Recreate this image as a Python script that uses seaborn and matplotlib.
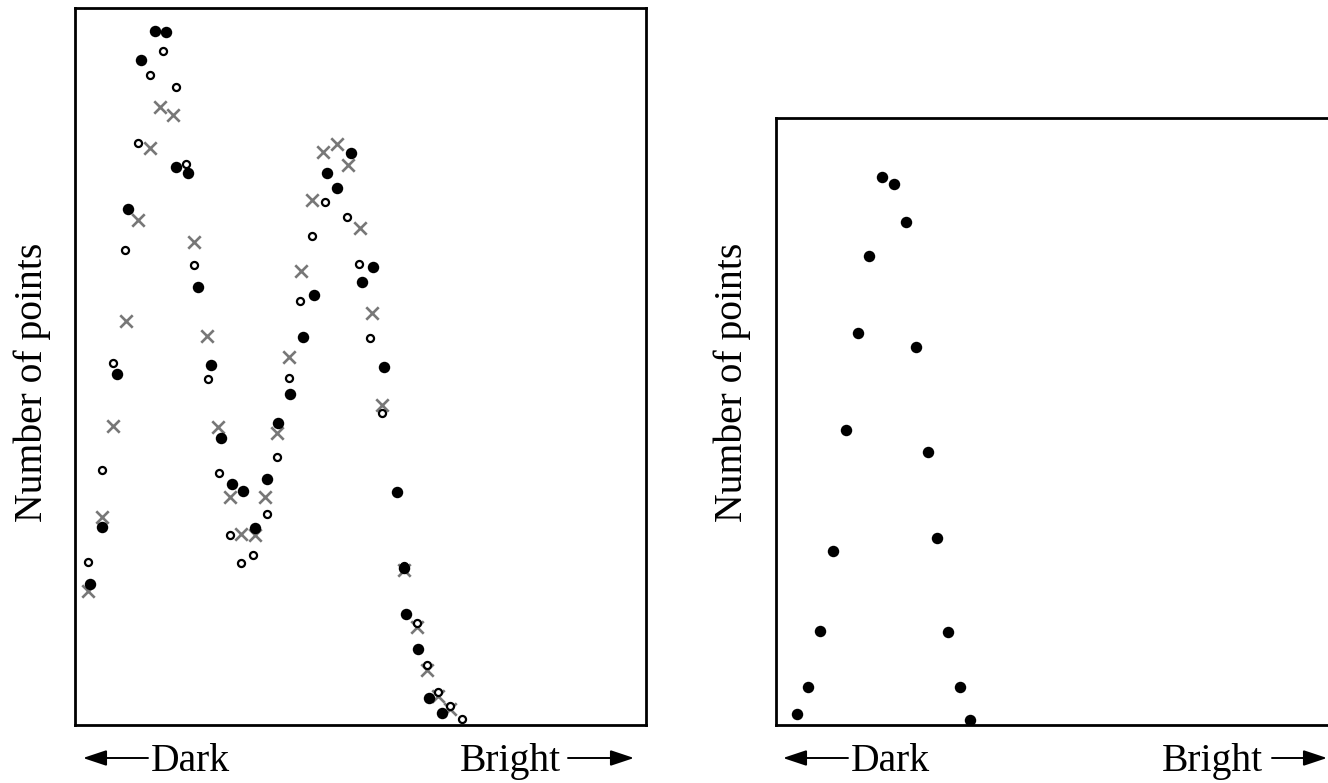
import matplotlib
matplotlib.use('Agg')
import matplotlib.pyplot as plt
import seaborn as sns

# brightness level (0-255) vs number of points
# left panel: three overlaid histograms
dots_x = [6.7, 12.1, 18.8, 23.7, 29.5, 35.7, 40.6, 45.1, 50.5, 54.9, 60.7, 65.2,
          70.1, 75.0, 80.4, 85.7, 90.7, 96.0, 101.8, 106.7, 112.5, 117.0, 123.3,
          128.2, 133.1, 138.0, 143.8, 146.9, 147.8, 153.2, 158.1, 163.9]
dots_y = [197, 276, 490, 720, 927, 968, 967, 778, 770, 611, 502, 400,
          336, 326, 275, 343, 421, 462, 541, 600, 770, 749, 798,
          618, 639, 499, 325, 219, 155, 106, 38, 17]

rings_x = [5.8, 12.1, 17.0, 22.3, 28.1, 33.5, 39.3, 45.1, 49.6, 53.1, 59.4,
           64.3, 69.2, 74.1, 79.5, 85.7, 90.2, 95.6, 100.5, 105.8, 111.7,
           121.5, 126.8, 131.7, 137.1, 146.9, 152.7, 157.2, 162.1, 167.5, 172.8]
rings_y = [227, 356, 505, 662, 812, 907, 940, 890, 782, 642, 483,
           351, 265, 226, 237, 294, 374, 484, 591, 682, 729,
           709, 643, 540, 435, 222, 142, 84, 46, 26, 8]

cross_x = [5.8, 12.1, 17.0, 22.8, 28.1, 33.5, 38.0, 43.8, 53.1, 59.0, 63.9,
           69.2, 74.1, 80.4, 84.9, 90.2, 95.6, 100.9, 105.8, 110.8, 117.0,
           121.9, 127.3, 132.6, 137.1, 146.9, 152.7, 157.2, 162.1, 167.5]
cross_y = [187, 290, 417, 563, 704, 805, 862, 851, 674, 543, 416,
           318, 266, 265, 318, 407, 513, 633, 732, 799, 810,
           781, 693, 575, 446, 216, 137, 77, 40, 22]

# right panel: one histogram
right_x = [9.4, 14.3, 19.7, 25.5, 31.3, 36.6, 41.5, 47.3, 52.7, 58.1, 62.5,
           67.9, 71.9, 76.8, 82.2, 86.6]
right_y = [15, 53, 131, 243, 411, 547, 654, 764, 755, 702, 527,
           381, 261, 130, 53, 7]

sns.set_style('white')
plt.rcParams['font.family'] = ['Liberation Serif', 'DejaVu Serif']
plt.rcParams['text.color'] = 'black'

W, H = 1328, 783
fig = plt.figure(figsize=(W / 100, H / 100), dpi=100)


def box(l, t, r, b):
    return [l / W, 1 - b / H, (r - l) / W, (b - t) / H]


ax1 = fig.add_axes(box(75, 8, 646, 725))
ax2 = fig.add_axes(box(776, 118, 1340, 725))

sns.scatterplot(x=cross_x, y=cross_y, ax=ax1, marker='x', color='#777777',
                s=80, linewidth=1.9, zorder=2)
sns.scatterplot(x=rings_x, y=rings_y, ax=ax1, marker='o', color='white',
                edgecolor='black', s=26, linewidth=1.6, zorder=3)
sns.scatterplot(x=dots_x, y=dots_y, ax=ax1, marker='o', color='black',
                s=68, linewidth=0, zorder=4)

sns.scatterplot(x=right_x, y=right_y, ax=ax2, marker='o', color='black',
                s=68, linewidth=0)

ax1.set_xlim(0, 255)
ax1.set_ylim(0, 1000)
ax2.set_xlim(0, 252)
ax2.set_ylim(0, 847)

for ax in (ax1, ax2):
    ax.set_xticks([])
    ax.set_yticks([])
    ax.set_xlabel('')
    ax.set_ylabel('')
    for sp in ax.spines.values():
        sp.set_visible(True)
        sp.set_color('black')
        sp.set_linewidth(2.0)

fs = 28.5
for xc in (32, 732):
    fig.text(xc / W, 1 - 382 / H, 'Number of points', rotation=90,
             ha='center', va='center', fontsize=fs, color='black')


def arrow(x_tail, x_head, y):
    fig.add_artist(matplotlib.patches.FancyArrowPatch(
        (x_tail / W, 1 - y / H), (x_head / W, 1 - y / H),
        transform=fig.transFigure,
        arrowstyle='-|>,head_length=0.9,head_width=0.3',
        mutation_scale=16, lw=1.4, color='black', shrinkA=0, shrinkB=0))


base = 1 - 771 / H
# left panel
arrow(148, 83, 758)
fig.text(151 / W, base, 'Dark', ha='left', va='baseline', fontsize=fs)
fig.text(561 / W, base, 'Bright', ha='right', va='baseline', fontsize=fs)
arrow(568, 634, 758)
# right panel
arrow(848, 783, 758)
fig.text(851 / W, base, 'Dark', ha='left', va='baseline', fontsize=fs)
fig.text(1263 / W, base, 'Bright', ha='right', va='baseline', fontsize=fs)
arrow(1272, 1327, 758)

fig.savefig('out.png', dpi=100)
